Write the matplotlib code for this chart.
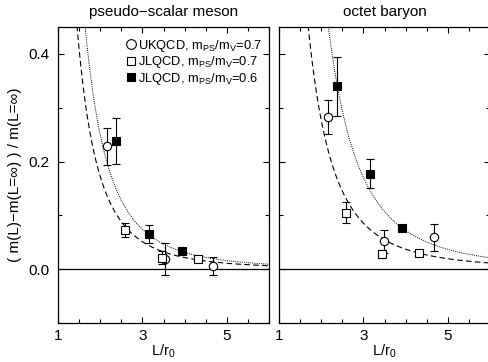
import matplotlib
matplotlib.use("Agg")
import matplotlib.pyplot as plt
from matplotlib.lines import Line2D
import numpy as np

plt.rcParams['font.family'] = ['Liberation Sans', 'DejaVu Sans']
plt.rcParams['mathtext.fontset'] = 'custom'
plt.rcParams['mathtext.rm'] = 'Liberation Sans'
plt.rcParams['mathtext.it'] = 'Liberation Sans'

# ---- data: pseudo-scalar meson ----
ps_uk_x = [2.17, 3.53, 4.67]
ps_uk_y = [0.228, 0.019, 0.006]
ps_uk_e = [0.035, 0.030, 0.017]
ps_j7_x = [2.59, 3.46, 4.32]
ps_j7_y = [0.073, 0.021, 0.019]
ps_j7_e = [0.013, 0.012, 0.004]
ps_j6_x = [2.37, 3.16, 3.94]
ps_j6_y = [0.238, 0.066, 0.033]
ps_j6_e = [0.043, 0.017, 0.004]

# ---- data: octet baryon ----
ob_uk_x = [2.17, 3.49, 4.67]
ob_uk_y = [0.283, 0.052, 0.059]
ob_uk_e = [0.031, 0.021, 0.025]
ob_j7_x = [2.58, 3.45, 4.31]
ob_j7_y = [0.105, 0.028, 0.031]
ob_j7_e = [0.019, 0.008, 0.004]
ob_j6_x = [2.37, 3.15, 3.91]
ob_j6_y = [0.340, 0.177, 0.077]
ob_j6_e = [0.055, 0.027, 0.005]

# fit curves c / L^n : (c, n)
ps_fit_dash = (1.38, 3.0)
ps_fit_dot = (2.0, 3.0)
ob_fit_dash = (2.07, 2.9)
ob_fit_dot = (4.6, 3.0)

titles = ["pseudo\u2212scalar meson", "octet baryon"]
labels = ["UKQCD, m$_{\\rm PS}$/m$_{\\rm V}$=0.7",
          "JLQCD, m$_{\\rm PS}$/m$_{\\rm V}$=0.7",
          "JLQCD, m$_{\\rm PS}$/m$_{\\rm V}$=0.6"]

fig = plt.figure(figsize=(4.89, 3.62), dpi=100)
w = 211 / 489
h = 0.8177
ax1 = fig.add_axes([58 / 489, 0.1077, w, h])
ax2 = fig.add_axes([279 / 489, 0.1077, w, h])

panels = [
    (ax1, (ps_uk_x, ps_uk_y, ps_uk_e), (ps_j7_x, ps_j7_y, ps_j7_e), (ps_j6_x, ps_j6_y, ps_j6_e), ps_fit_dash, ps_fit_dot),
    (ax2, (ob_uk_x, ob_uk_y, ob_uk_e), (ob_j7_x, ob_j7_y, ob_j7_e), (ob_j6_x, ob_j6_y, ob_j6_e), ob_fit_dash, ob_fit_dot),
]

L = np.linspace(1.01, 6.0, 400)
for i, (ax, uk, j7, j6, fd, fdot) in enumerate(panels):
    ax.plot(L, fd[0] / L**fd[1], color='black', lw=0.8, ls=(0, (5, 3)))
    ax.plot(L, fdot[0] / L**fdot[1], color='black', lw=0.7, ls=(0, (1, 1.2)))
    ax.axhline(0, color='black', lw=0.9)
    ekw = dict(ecolor='black', elinewidth=0.8, capsize=3, capthick=0.8, ls='none')
    ax.errorbar(uk[0], uk[1], yerr=uk[2], marker='o', ms=6, mfc='white', mec='black', mew=0.8, **ekw)
    ax.errorbar(j7[0], j7[1], yerr=j7[2], marker='s', ms=5.5, mfc='white', mec='black', mew=0.8, **ekw)
    ax.errorbar(j6[0], j6[1], yerr=j6[2], marker='s', ms=5.5, mfc='black', mec='black', mew=0.8, **ekw)
    ax.set_xlim(1, 6)
    ax.set_ylim(-0.1, 0.45)
    ax.set_xticks([1, 3, 5])
    ax.set_xticks(np.arange(1, 6.01, 0.5), minor=True)
    ax.set_yticks([0.0, 0.2, 0.4])
    ax.set_yticks(np.arange(-0.1, 0.451, 0.1), minor=True)
    ax.tick_params(which='both', direction='in', top=True, right=True, labelsize=11, length=3, width=0.8, pad=6)
    ax.tick_params(axis='x', which='both', pad=4)
    ax.tick_params(which='major', length=4)
    for s in ax.spines.values():
        s.set_linewidth(0.9)
    ax.set_title(titles[i], fontsize=11, pad=8)
    ax.set_xlabel("L/r$_0$", fontsize=10.5, labelpad=0)
    if i == 0:
        ax.set_yticklabels(["0.0", "0.2", "0.4"])
        ax.set_ylabel("( m(L)\u2212m(L=\u221e) ) / m(L=\u221e)", fontsize=11, labelpad=5)
        handles = [Line2D([], [], ls='none', marker='o', ms=7, mfc='white', mec='black', mew=0.8),
                   Line2D([], [], ls='none', marker='s', ms=6, mfc='white', mec='black', mew=0.8),
                   Line2D([], [], ls='none', marker='s', ms=6, mfc='black', mec='black', mew=0.8)]
        ax.legend(handles, labels, loc='upper left', frameon=False, fontsize=9.3,
                  handlelength=0.6, handletextpad=0.25, labelspacing=0.02,
                  borderaxespad=0.0, borderpad=0.0,
                  bbox_to_anchor=((127 - 58) / 211, (362 - 38 - 39) / 296))
    else:
        ax.set_yticklabels([])

fig.savefig("out.png", dpi=100)
